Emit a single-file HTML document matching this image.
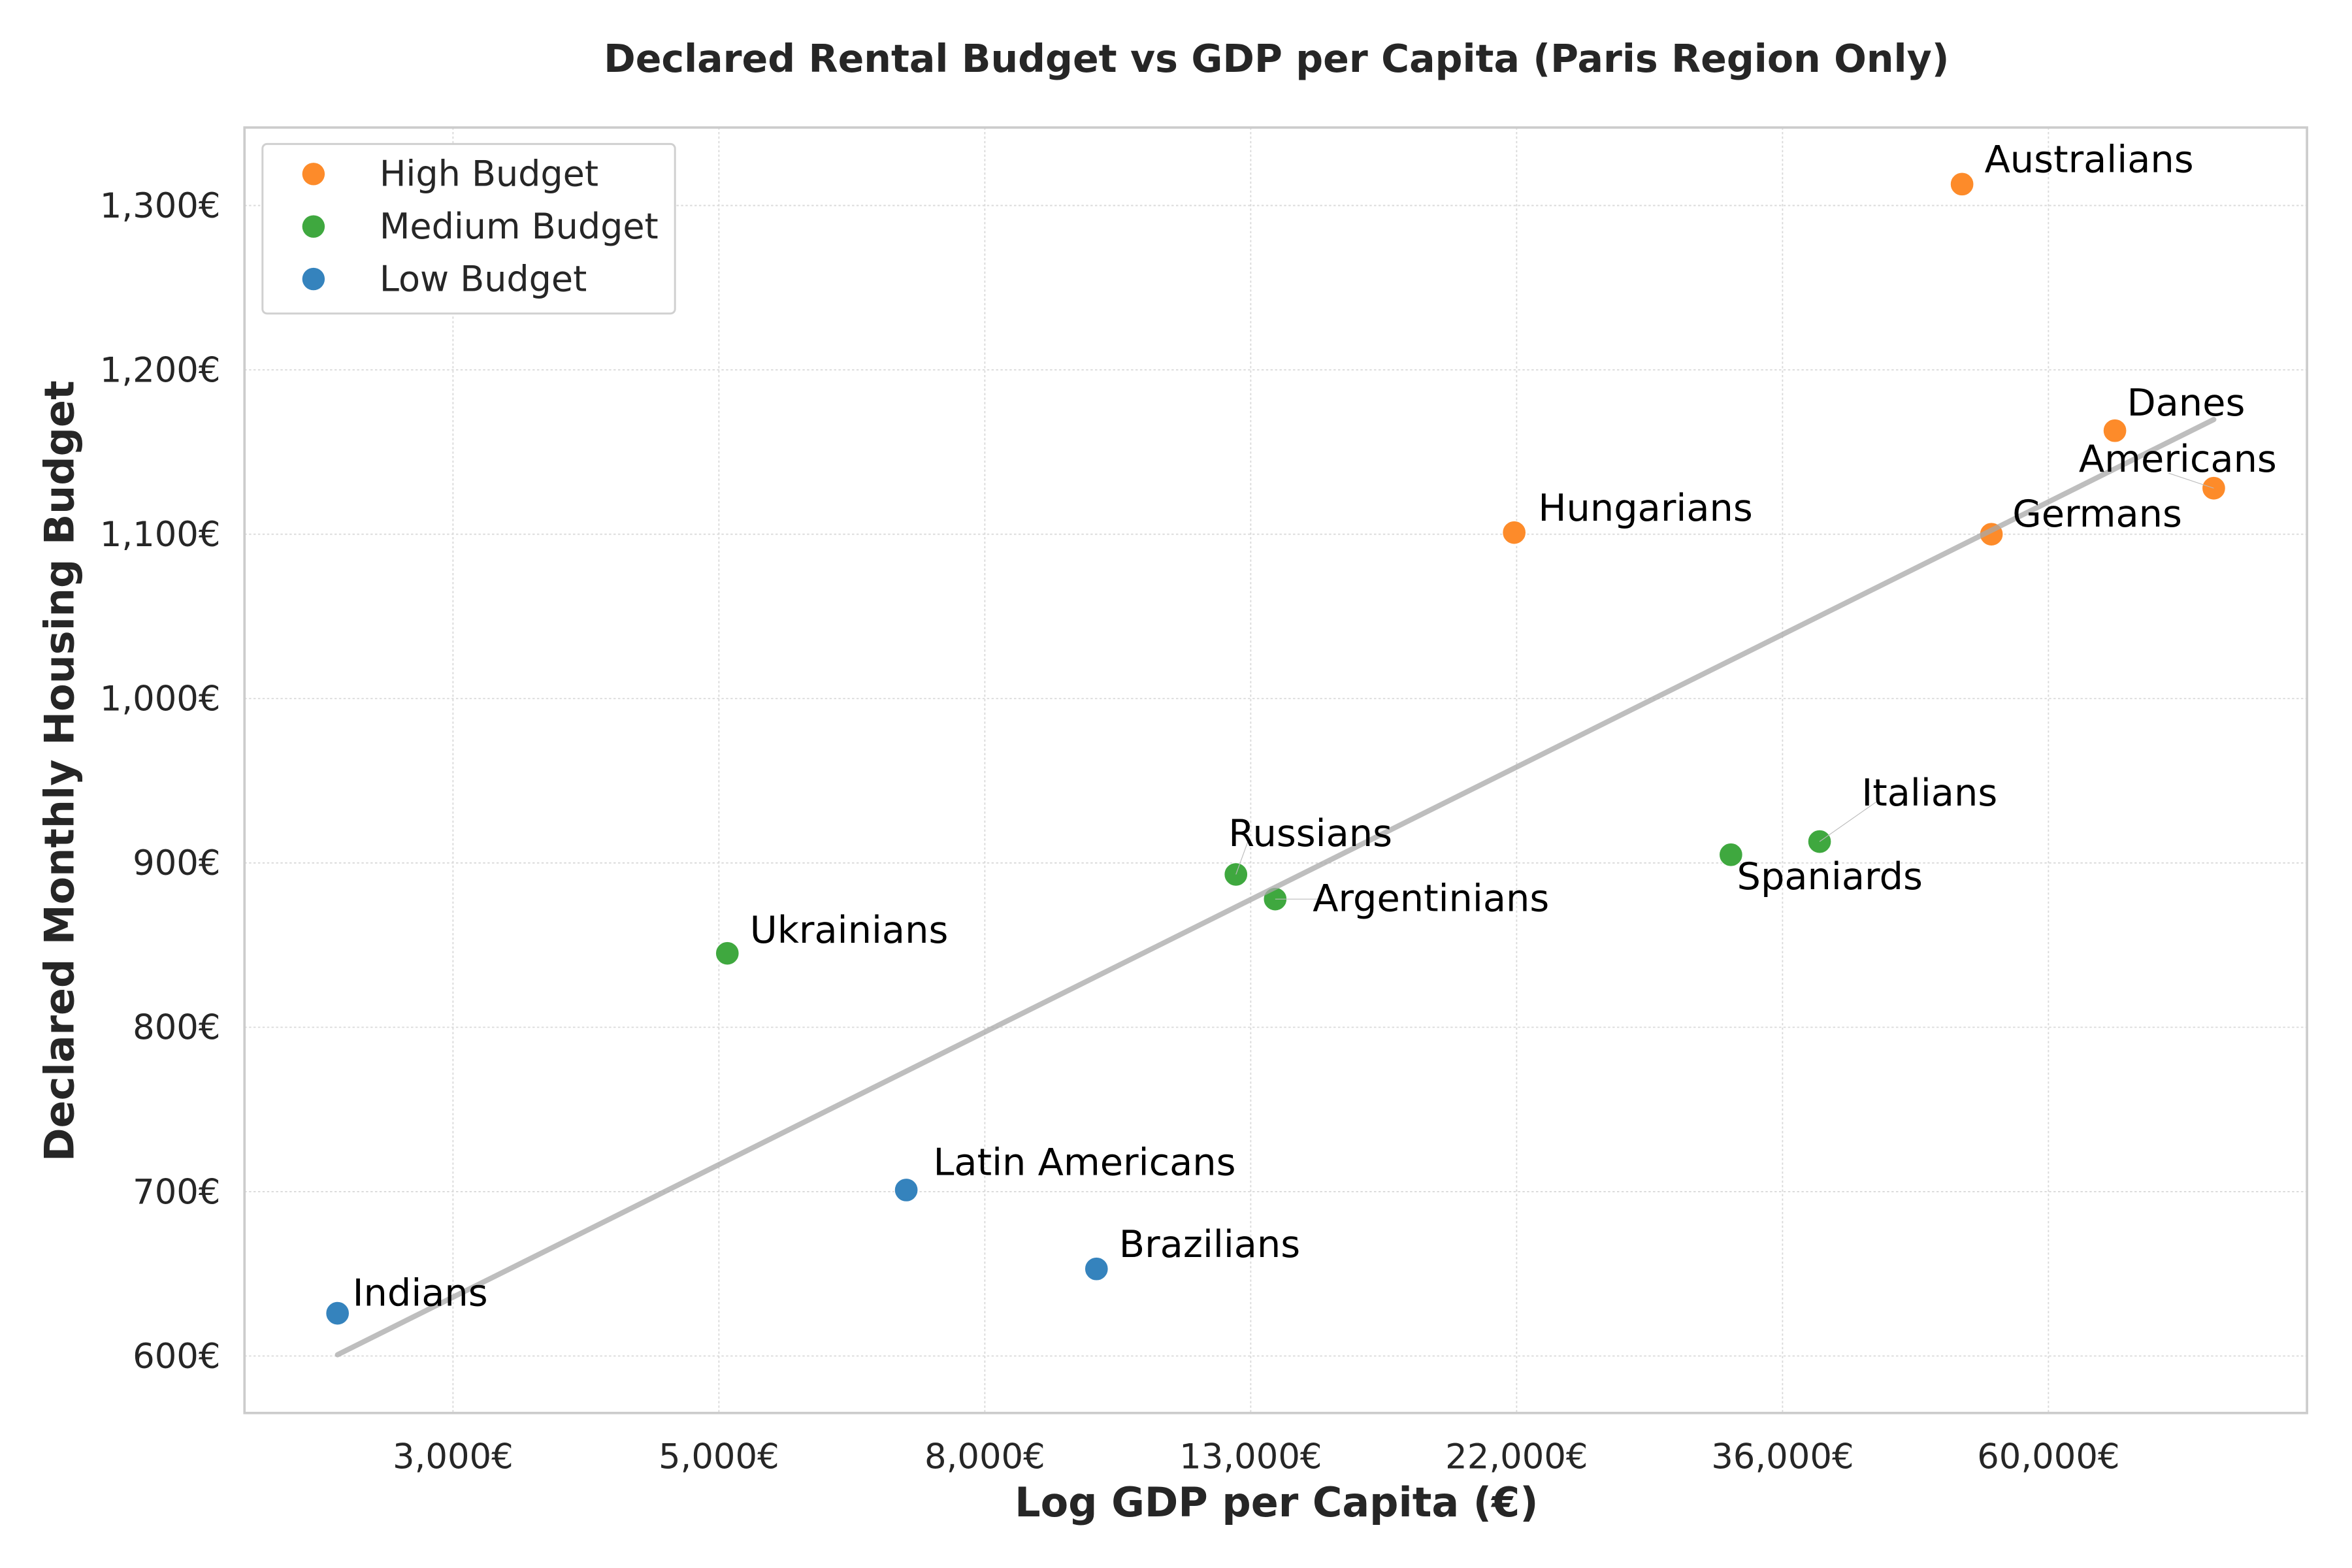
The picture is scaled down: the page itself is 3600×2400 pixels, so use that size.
<!DOCTYPE html>
<html><head><meta charset="utf-8"><style>
html,body{margin:0;padding:0;background:#fff}
svg{display:block}
text{font-family:"DejaVu Sans","Liberation Sans",sans-serif}
</style></head><body>
<svg id="chart" width="3600" height="2400" viewBox="0 0 1568 1045.33" xmlns="http://www.w3.org/2000/svg">
<rect x="0" y="0" width="1568" height="1046" fill="#fff"/>
<text x="851" y="48" text-anchor="middle" font-size="25.5" font-weight="bold" fill="#262626">Declared Rental Budget vs GDP per Capita (Paris Region Only)</text>
<g id="grid"></g>
<g id="points"></g>
<g id="trend"></g>
<g id="labels"></g>
<rect x="163" y="85" width="1375" height="857" fill="none" stroke="#cccccc" stroke-width="1.6"/>
<g id="ticks"></g>
<text x="851" y="1011" text-anchor="middle" font-size="27" font-weight="bold" fill="#262626">Log GDP per Capita (€)</text>
<text transform="translate(49,514) rotate(-90)" text-anchor="middle" font-size="27" font-weight="bold" fill="#262626">Declared Monthly Housing Budget</text>
<g>
<rect x="175" y="96" width="275" height="113" rx="3" fill="#fff" stroke="#d0d0d0" stroke-width="1.3"/>
<circle cx="209" cy="116" r="7.5" fill="#fd8b2a"/>
<text x="253" y="124" font-size="23.5" fill="#262626">High Budget</text>
<circle cx="209" cy="151" r="7.5" fill="#3fa83f"/>
<text x="253" y="159" font-size="23.5" fill="#262626">Medium Budget</text>
<circle cx="209" cy="186" r="7.5" fill="#3583bd"/>
<text x="253" y="194" font-size="23.5" fill="#262626">Low Budget</text>
</g>
</svg>
<script>
const names = ["Indians","Ukrainians","Latin Americans","Brazilians","Russians","Argentinians","Hungarians","Spaniards","Italians","Australians","Germans","Danes","Americans"];
const gdp = [2415,5023,7030,10050,13060,14060,22030,33100,39100,51100,54000,68100,82000];
const budget = [626,845,701,653,893,878,1101,905,913,1313,1100,1163,1128];
const tier = ["low","medium","low","low","medium","medium","high","medium","medium","high","high","high","high"];
const xTickValues = [3000,4944,8148,13428,22130,36472,60107];
const xTickLabels = ["3,000€","5,000€","8,000€","13,000€","22,000€","36,000€","60,000€"];
const yTickValues = [600,700,800,900,1000,1100,1200,1300];

const NS="http://www.w3.org/2000/svg";
const pxPerDecade = 1063/Math.log10(20);
function xs(v){return 302 + (Math.log10(v)-Math.log10(3000))*pxPerDecade;}
function ys(v){return 904 - (v-600)*(767/700);}
function mk(tag,attrs,parent){const e=document.createElementNS(NS,tag);for(const k in attrs)e.setAttribute(k,attrs[k]);parent.appendChild(e);return e;}
const colors={high:"#fd8b2a",medium:"#3fa83f",low:"#3583bd"};
const grid=document.getElementById('grid'), ticks=document.getElementById('ticks');
xTickValues.forEach((v,i)=>{
  const l=mk('line',{x1:xs(v),x2:xs(v),y1:85,y2:942,stroke:"#d9d9d9","stroke-width":0.8,"stroke-dasharray":"1.5,1.5"},grid);
  
  
  const t=mk('text',{x:xs(v),y:979,"text-anchor":"middle","font-size":23,fill:"#262626"},ticks);
  t.textContent=xTickLabels[i];
  
  
});
yTickValues.forEach(v=>{
  const l=mk('line',{x1:163,x2:1538,y1:ys(v),y2:ys(v),stroke:"#d9d9d9","stroke-width":0.8,"stroke-dasharray":"1.5,1.5"},grid);
  
  
  const t=mk('text',{x:147,y:ys(v)+8,"text-anchor":"end","font-size":23,fill:"#262626"},ticks);
  t.textContent=v.toLocaleString('en-US')+"€";
  
  
});
const lx=gdp.map(v=>Math.log10(v));const n=lx.length;
const mx=lx.reduce((a,b)=>a+b,0)/n,my=budget.reduce((a,b)=>a+b,0)/n;
let sxy=0,sxx=0;for(let i=0;i<n;i++){sxy+=(lx[i]-mx)*(budget[i]-my);sxx+=(lx[i]-mx)**2;}
const slope=sxy/sxx,icpt=my-slope*mx;
const gmin=Math.min(...gdp),gmax=Math.max(...gdp);
const pts=document.getElementById('points'),labs=document.getElementById('labels');
gdp.forEach((g,i)=>{
  const c=mk('circle',{cx:xs(g),cy:ys(budget[i]),r:7.8,fill:colors[tier[i]],stroke:"#fff","stroke-width":0.5},pts);
  
  
});
const tl=mk('line',{x1:xs(gmin),y1:ys(slope*Math.log10(gmin)+icpt),x2:xs(gmax),y2:ys(slope*Math.log10(gmax)+icpt),stroke:"#a8a8a8","stroke-width":3.5,"stroke-opacity":0.75,"stroke-linecap":"round"},document.getElementById('trend'));


const off={"Indians":[10,-5,"start"],"Ukrainians":[15,-7,"start"],"Latin Americans":[18,-10,"start"],"Brazilians":[15,-8,"start"],"Russians":[-5,-19,"start"],"Argentinians":[25,8,"start"],"Hungarians":[16,-8,"start"],"Spaniards":[4,23,"start"],"Italians":[28,-24,"start"],"Australians":[15,-8,"start"],"Germans":[14,-5,"start"],"Danes":[8,-10,"start"],"Americans":[42,-11,"end"]};
const leaders={"Russians":[8,-22],"Argentinians":[30,0],"Italians":[40,-28],"Americans":[-30,-10]};
names.forEach((nm,i)=>{
  const o=off[nm];const px=xs(gdp[i]),py=ys(budget[i]);
  if(leaders[nm]){
    const ln=mk('line',{x1:px,y1:py,x2:px+leaders[nm][0],y2:py+leaders[nm][1],stroke:"#bbb","stroke-width":0.5},labs);
    
    
  }
  const t=mk('text',{x:px+o[0],y:py+o[1],"text-anchor":o[2],"font-size":25,fill:"#000"},labs);
  t.textContent=nm;
  
  
});
</script>
</body></html>
